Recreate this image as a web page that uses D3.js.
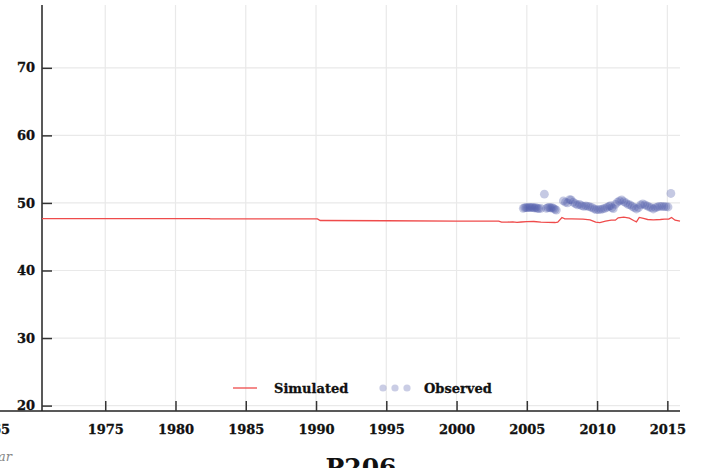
<!DOCTYPE html>
<html><head><meta charset="utf-8">
<script src="https://cdn.jsdelivr.net/npm/d3@7"></script>
<style>
html,body{margin:0;padding:0;background:#fff;overflow:hidden;}
text{font-family:"DejaVu Serif",serif;}
</style></head>
<body>
<svg id="c" width="705" height="468"></svg>
<script>
const xTicks = [1975, 1980, 1985, 1990, 1995, 2000, 2005, 2010, 2015];
const yTicks = [20, 30, 40, 50, 60, 70];
const simYears = [1970.5,1982.4,1982.5,1990.1,1990.3,1995,2000,2003.0,2003.2,2003.6,2004.0,2004.3,2004.6,2005.0,2005.5,2006.0,2006.5,2007.0,2007.2,2007.5,2007.7,2008.2,2009.0,2009.5,2009.9,2010.2,2010.6,2011.0,2011.3,2011.5,2011.9,2012.3,2012.6,2012.8,2013.0,2013.3,2013.6,2014.0,2014.5,2014.8,2015.1,2015.3,2015.55,2015.9];
const simValues = [47.68,47.68,47.63,47.63,47.4,47.36,47.32,47.3,47.15,47.15,47.2,47.12,47.18,47.22,47.25,47.15,47.12,47.1,47.15,47.85,47.65,47.65,47.6,47.5,47.15,47.1,47.3,47.45,47.45,47.8,47.9,47.75,47.4,47.2,47.85,47.7,47.55,47.5,47.55,47.6,47.6,47.85,47.45,47.3];
const obsYears = [2004.75,2004.85,2004.95,2005.05,2005.15,2005.25,2005.35,2005.45,2005.55,2005.65,2005.75,2005.85,2006.0,2006.25,2006.4,2006.5,2006.6,2006.7,2006.8,2006.9,2007.0,2007.1,2007.6,2007.75,2007.9,2008.05,2008.15,2008.3,2008.45,2008.6,2008.75,2008.9,2009.05,2009.2,2009.35,2009.5,2009.65,2009.8,2009.95,2010.1,2010.25,2010.4,2010.55,2010.7,2010.85,2010.95,2011.05,2011.15,2011.3,2011.45,2011.6,2011.75,2011.9,2012.05,2012.2,2012.35,2012.5,2012.65,2012.8,2012.95,2013.1,2013.25,2013.4,2013.55,2013.7,2013.85,2014.0,2014.15,2014.3,2014.45,2014.6,2014.75,2014.9,2015.05,2015.25];
const obsValues = [49.2,49.3,49.3,49.3,49.35,49.3,49.35,49.3,49.25,49.3,49.2,49.15,49.2,51.3,49.2,49.3,49.35,49.25,49.3,49.2,49.05,48.95,50.3,50.1,50.0,50.5,50.45,50.1,49.9,49.7,49.8,49.6,49.5,49.55,49.5,49.4,49.3,49.1,49.0,49.0,49.05,49.1,49.2,49.35,49.5,49.6,49.3,49.15,49.8,50.1,50.3,50.45,50.2,50.0,49.8,49.7,49.5,49.3,49.1,49.3,49.7,49.85,49.7,49.55,49.4,49.3,49.1,49.3,49.4,49.5,49.5,49.45,49.45,49.4,51.4];
const legendLabels = ["Simulated", "Observed"];
const titleText = "P206";
const xTitle = "Year";

const svg = d3.select("#c");
const L = 42, R = 680, T = 5, B = 411;
const x = d3.scaleLinear().domain([1970.5, 2015.9]).range([L, R]);
const y = d3.scaleLinear().domain([19.2, 79.3]).range([B, T]);

// grid
svg.append("g").selectAll("line").data(xTicks).join("line")
  .attr("x1", d => x(d)).attr("x2", d => x(d)).attr("y1", T).attr("y2", B)
  .attr("stroke", "#e9e9e9").attr("stroke-width", 1.2);
svg.append("g").selectAll("line").data(yTicks).join("line")
  .attr("x1", L).attr("x2", R).attr("y1", d => y(d)).attr("y2", d => y(d))
  .attr("stroke", "#e9e9e9").attr("stroke-width", 1.2);

// axes
const xAxis = svg.append("g").attr("transform", `translate(0,${B})`)
  .call(d3.axisBottom(x).tickValues(xTicks).tickFormat(d3.format("d")).tickSizeInner(-10).tickSizeOuter(0).tickPadding(14));
const yAxis = svg.append("g").attr("transform", `translate(${L},0)`)
  .call(d3.axisLeft(y).tickValues(yTicks).tickSizeInner(-10).tickSizeOuter(0).tickPadding(7));
[xAxis, yAxis].forEach(a => {
  a.select(".domain").attr("stroke", "#222").attr("stroke-width", 1.5);
  a.selectAll(".tick line").attr("stroke", "#333").attr("stroke-width", 1.5);
  a.selectAll(".tick text").attr("font-family", "DejaVu Serif").attr("font-weight", "bold")
    .attr("font-size", 13).attr("fill", "#111").attr("stroke", "#111").attr("stroke-width", 0.3);
});
yAxis.select(".domain").attr("d", `M0,${T}V${B}`);
xAxis.select(".domain").attr("d", `M0,0H${R}`);

// clipped leftover label (cut at the left edge as in the reference)
svg.append("text").attr("x", 10).attr("y", 434).attr("text-anchor", "end")
  .attr("font-weight", "bold").attr("font-size", 13).attr("fill", "#111")
  .attr("stroke", "#111").attr("stroke-width", 0.3).text("1965");
svg.append("text").attr("x", 12).attr("y", 461).attr("text-anchor", "end")
  .attr("font-style", "italic").attr("font-size", 13).attr("fill", "#888").text(xTitle);
svg.append("text").attr("x", 361).attr("y", 476).attr("text-anchor", "middle")
  .attr("font-weight", "bold").attr("font-size", 25).attr("fill", "#111").text(titleText);

// simulated line
const sim = simYears.map((d, i) => [d, simValues[i]]);
svg.append("path").datum(sim)
  .attr("d", d3.line().x(d => x(d[0])).y(d => y(d[1])))
  .attr("fill", "none").attr("stroke", "#ef4b4b").attr("stroke-width", 1.3);

// observed points
const obs = obsYears.map((d, i) => [d, obsValues[i]]);
svg.append("g").selectAll("circle").data(obs).join("circle")
  .attr("cx", d => x(d[0])).attr("cy", d => y(d[1])).attr("r", 4.4)
  .attr("fill", "rgb(80,90,170)").attr("fill-opacity", 0.33);

// legend
const lg = svg.append("g");
lg.append("line").attr("x1", 233).attr("x2", 257).attr("y1", 388).attr("y2", 388)
  .attr("stroke", "#ef4b4b").attr("stroke-width", 1.3);
lg.append("text").attr("x", 274).attr("y", 393).attr("font-weight", "bold").attr("font-size", 13)
  .attr("fill", "#111").attr("stroke", "#111").attr("stroke-width", 0.3).text(legendLabels[0]);
lg.selectAll("circle").data([383, 395, 407]).join("circle")
  .attr("cx", d => d).attr("cy", 388).attr("r", 3.6)
  .attr("fill", "rgb(80,90,170)").attr("fill-opacity", 0.3);
lg.append("text").attr("x", 424).attr("y", 393).attr("font-weight", "bold").attr("font-size", 13)
  .attr("fill", "#111").attr("stroke", "#111").attr("stroke-width", 0.3).text(legendLabels[1]);
</script>
</body></html>
